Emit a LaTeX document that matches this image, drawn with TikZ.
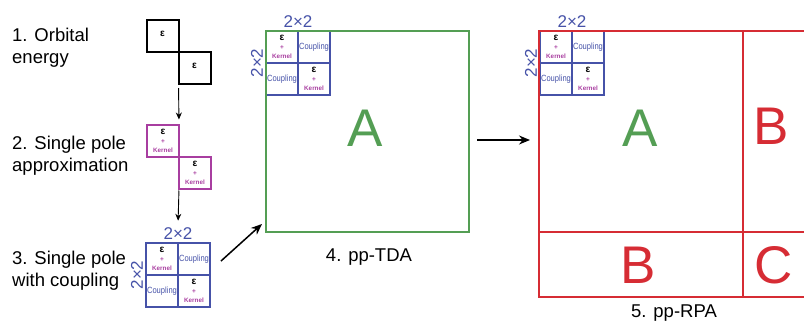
\documentclass[tikz,border=0pt]{standalone}
\usepackage{fontspec}
\setmainfont{Liberation Sans}
\usetikzlibrary{
  arrows.meta,
  calc,
  positioning,
}
\definecolor{gridblue}{RGB}{70, 82, 168}
\definecolor{kernelpink}{RGB}{168, 62, 160}
\definecolor{tdagreen}{RGB}{84, 158, 84}
\definecolor{rpared}{RGB}{214, 44, 52}
\tikzstyle{cell} = [
  draw,
  line width=2pt,
  minimum width=32pt,
  minimum height=32pt,
  inner sep=0pt,
  outer sep=0pt,
  align=center,
  font=\fontsize{9}{9}\selectfont,
]
\tikzstyle{arrow} = [
  -{Stealth[length=11pt, width=9pt]},
  line width=1.5pt,
  black,
]
\tikzstyle{smallarrow} = [
  -{Stealth[length=7pt, width=6pt]},
  line width=0.9pt,
  black,
]
\tikzstyle{dimlabel} = [gridblue, inner sep=3pt, font=\fontsize{17}{17}\selectfont]
\tikzstyle{steplabel} = [anchor=west, align=left, inner sep=0pt, font=\fontsize{18.5}{22}\selectfont]
\tikzstyle{caption} = [anchor=base, inner sep=0pt, font=\fontsize{18.5}{22}\selectfont]
\tikzstyle{bigletter} = [inner sep=0pt, font=\fontsize{53}{53}\selectfont]
\tikzstyle{blockframe} = [draw, line width=1.8pt, inner sep=0pt, outer sep=0pt]
\newcommand{\epsym}{{\color{black}\fontsize{10}{10}\selectfont\bfseries ε}}
\newcommand{\epker}{\epsym\\{\color{kernelpink}\fontsize{6.5}{7}\selectfont\bfseries +}\\{\color{kernelpink}\fontsize{6.3}{7}\selectfont\bfseries Kernel}}
\newcommand{\coupl}{\scalebox{0.84}[1]{Coupling}}

\begin{document}
\begin{tikzpicture}[x=1pt, y=-1pt]
  \clip (0, 0) rectangle (804, 322);

  % step labels
  \node [steplabel] (lbl-oe) at (12, 47.5) {1. Orbital\\energy};
  \node [steplabel] (lbl-sp) at (12, 155.5) {2. Single pole\\approximation};
  \node [steplabel] (lbl-sc) at (12, 270.5) {3. Single pole\\with coupling};

  % orbital energy
  \node [cell] (oe1) at (162.5, 36) {\raisebox{5pt}{\epsym}};
  \node [cell, anchor=north west] (oe2) at (oe1.south east) {\raisebox{5pt}{\epsym}};

  % single pole
  \node [cell, kernelpink] (sp1) at (163, 140.5) {\epker};
  \node [cell, kernelpink, anchor=north west] (sp2) at (sp1.south east) {\epker};

  % 2x2 blocks
  \foreach \mx/\gx/\gy in {sc/146/243, tda/266/31, rpa/540/31} {
    \node [cell, gridblue, anchor=north west] (\mx-11) at (\gx, \gy) {\epker};
    \node [cell, gridblue, right=0pt of \mx-11] (\mx-12) {\coupl};
    \node [cell, gridblue, below=0pt of \mx-11] (\mx-21) {\coupl};
    \node [cell, gridblue, right=0pt of \mx-21] (\mx-22) {\epker};
    \node [dimlabel, above] (\mx-top) at (\mx-11.north east) {2×2};
    \node [dimlabel, rotate=90, above] (\mx-side) at (\mx-11.south west) {2×2};
  }

  % pp-TDA
  \node [blockframe, tdagreen, minimum width=203pt, minimum height=201pt] (tda) at (367.5, 131.5) {};
  \node [bigletter, tdagreen] (tda-a) at (365.5, 128) {A};
  \node [caption] (tda-cap) at (369, 261) {4. pp-TDA};

  % pp-RPA
  \node [blockframe, rpared, minimum width=204pt, minimum height=201pt] (rpa-a) at (641, 131.5) {};
  \node [blockframe, rpared, minimum width=120pt, minimum height=201pt, anchor=west] (rpa-b) at (rpa-a.east) {};
  \node [blockframe, rpared, minimum width=204pt, minimum height=65pt, anchor=north] (rpa-b2) at (rpa-a.south) {};
  \node [blockframe, rpared, minimum width=120pt, minimum height=65pt, anchor=north west] (rpa-c) at (rpa-a.south east) {};
  \node [bigletter, tdagreen] (rpa-la) at (640, 128) {A};
  \node [bigletter, rpared] (rpa-lb) at (771.5, 126.5) {B};
  \node [bigletter, rpared] (rpa-lb2) at (638, 265.5) {B};
  \node [bigletter, rpared] (rpa-lc) at (774, 265) {C};
  \node [caption] (rpa-cap) at (674, 317) {5. pp-RPA};

  % arrows
  \draw [smallarrow, shorten <=4pt, shorten >=5pt] (oe2.south west) -- (sp1.north east);
  \draw [smallarrow, shorten <=2pt, shorten >=4pt] (sp2.south west) -- (sc-top.north);
  \draw [arrow] ($(sc-12.south east)+(11, -14)$) -- ($(tda.south west)+(-4, -8)$);
  \draw [arrow] ($(tda.east)+(8, 8.5)$) -- ($(rpa-a.west)+(-9, 8.5)$);
\end{tikzpicture}
\end{document}
